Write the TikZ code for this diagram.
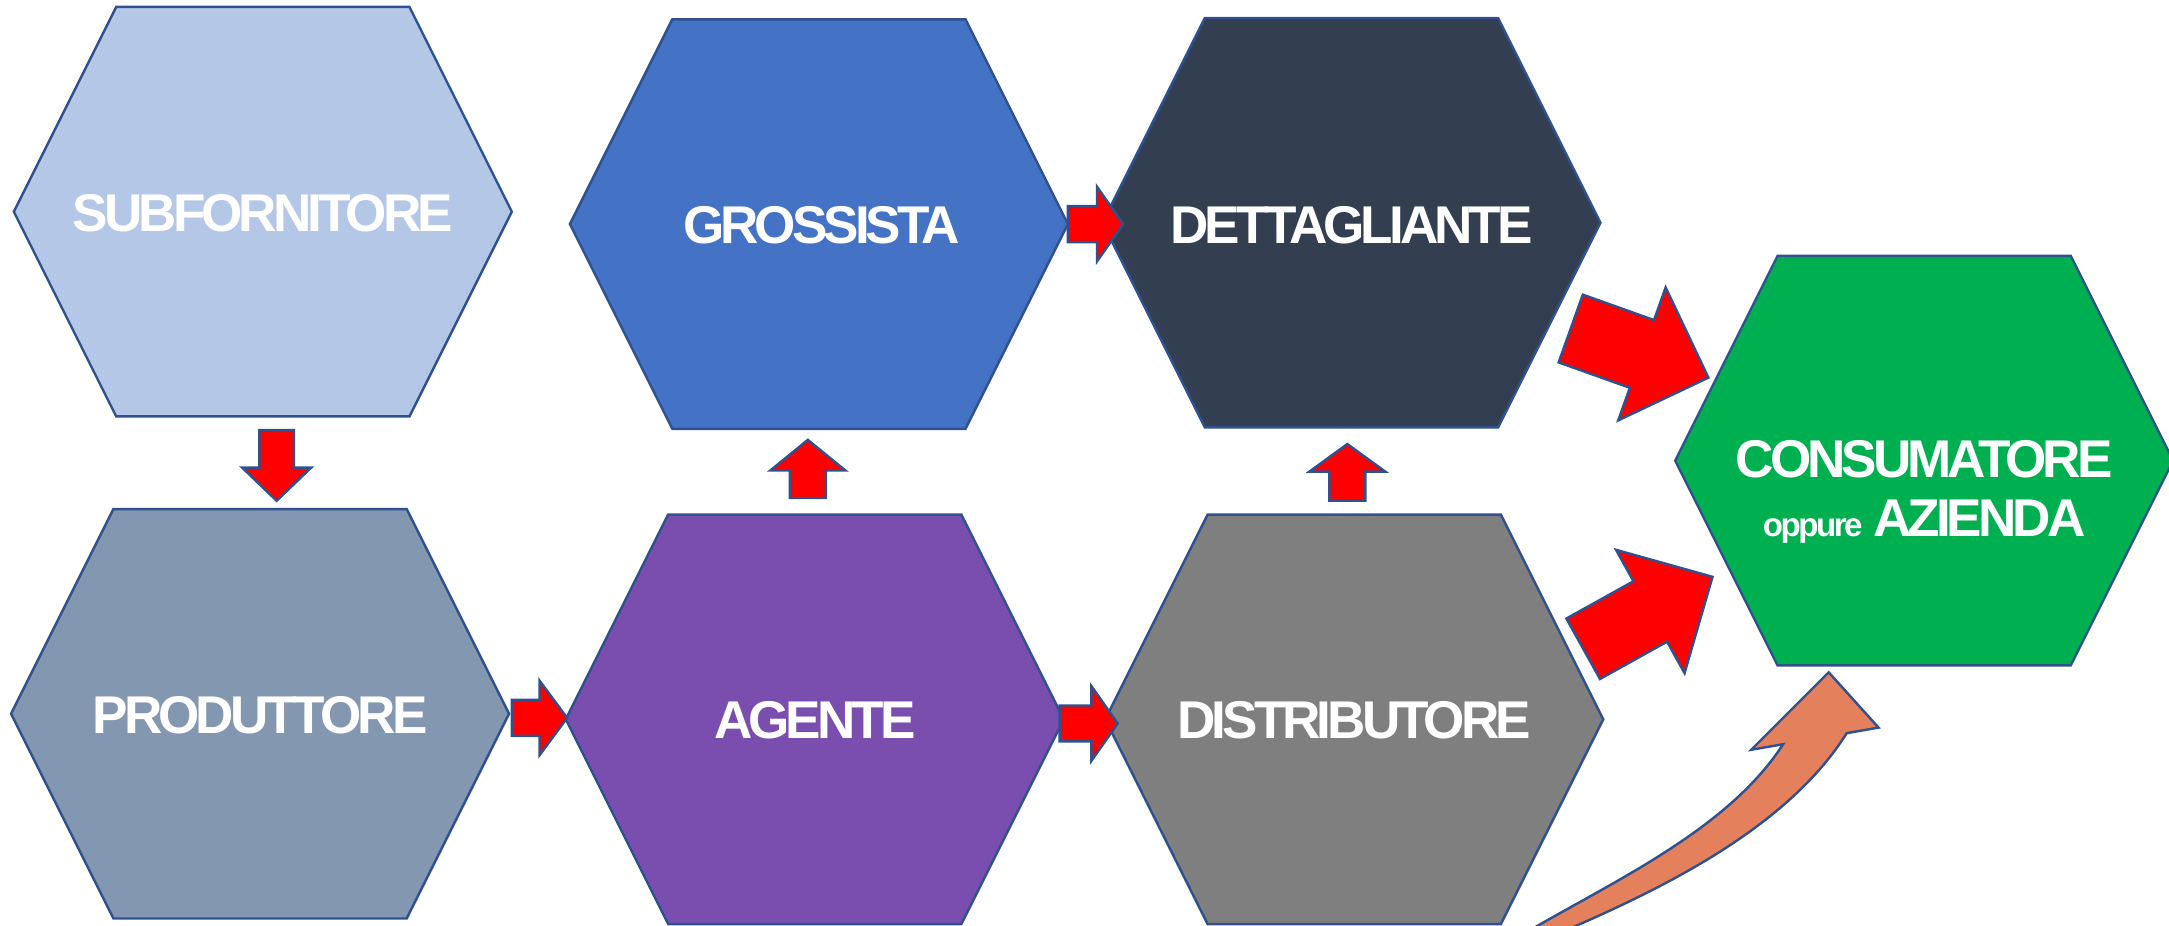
\documentclass[tikz,border=0pt]{standalone}
\usepackage{fontspec}
\setmainfont{Liberation Sans}
\newfontfamily\lblfont{Liberation Sans}[LetterSpace=-7.5]
\usetikzlibrary{calc}
\definecolor{cSub}{HTML}{B4C7E7}
\definecolor{cProd}{HTML}{8497B0}
\definecolor{cGross}{HTML}{4472C4}
\definecolor{cAg}{HTML}{7A4EAF}
\definecolor{cDett}{HTML}{333F50}
\definecolor{cDist}{HTML}{7F7F7F}
\definecolor{cCons}{HTML}{00B050}
\definecolor{cLine}{HTML}{2F528F}
\definecolor{cOr}{HTML}{E5805D}
\newcommand\hexat[2]{%
  \draw[hexsty, fill=#2] ([shift={(-180,0)}]#1) -- ([shift={(-106,-148)}]#1) -- ([shift={(106,-148)}]#1) -- ([shift={(180,0)}]#1) -- ([shift={(106,148)}]#1) -- ([shift={(-106,148)}]#1) -- cycle;}
\newcommand\barrow[5]{%
  \coordinate (tmpH) at ($(#2)!#5!(#1)$);
  \draw[redarrow] ($(#1)!#3!90:(#2)$) -- ($(tmpH)!#3!90:(#2)$) -- ($(tmpH)!#4!90:(#2)$) -- (#2) -- ($(tmpH)!#4!-90:(#2)$) -- ($(tmpH)!#3!-90:(#2)$) -- ($(#1)!#3!-90:(#2)$) -- cycle;}
\begin{document}
\begin{tikzpicture}[x=0.02cm, y=-0.02cm,
  hexsty/.style={draw=cLine, line width=1pt, line join=miter},
  redarrow/.style={draw=cLine, fill=red, line width=1pt, line join=miter},
  lbl/.style={text=white, font=\lblfont\fontsize{21.85}{24.5}\selectfont\bfseries, inner sep=0pt}]
\useasboundingbox (0,0) rectangle (1568,669);
\clip (0,0) rectangle (1568,669);
% hexagon centres
\coordinate (hSub) at (190,153);
\coordinate (hProd) at (188,516);
\coordinate (hGross) at (592,162);
\coordinate (hAg) at (589,520);
\coordinate (hDett) at (977,161);
\coordinate (hDist) at (979,520);
\coordinate (hCons) at (1391,333);
\hexat{hSub}{cSub}
\hexat{hProd}{cProd}
\hexat{hGross}{cGross}
\hexat{hAg}{cAg}
\hexat{hDett}{cDett}
\hexat{hDist}{cDist}
\hexat{hCons}{cCons}
% labels
\node[lbl] (sub) at (190,154) {SUBFORNITORE};
\node[lbl] (prod) at (188,517) {PRODUTTORE};
\node[lbl] (gross) at (594,163) {GROSSISTA};
\node[lbl] (ag) at (589,521) {AGENTE};
\node[lbl] (dett) at (977,163) {DETTAGLIANTE};
\node[lbl] (dist) at (979,521) {DISTRIBUTORE};
\node[lbl, align=center] (cons) at (1391,355.5) {CONSUMATORE\\{\fontsize{13.6}{15}\selectfont oppure} AZIENDA};
% block arrows
\coordinate (a1t) at (200,311); \coordinate (a1h) at (200,362);
\barrow{a1t}{a1h}{0.25cm}{0.5cm}{0.48cm}
\coordinate (a2t) at (370,519); \coordinate (a2h) at (410,519);
\barrow{a2t}{a2h}{0.26cm}{0.54cm}{0.4cm}
\coordinate (a3t) at (584,360); \coordinate (a3h) at (584,318);
\barrow{a3t}{a3h}{0.26cm}{0.54cm}{0.44cm}
\coordinate (a4t) at (772,162); \coordinate (a4h) at (812,162);
\barrow{a4t}{a4h}{0.26cm}{0.54cm}{0.38cm}
\coordinate (a5t) at (766,523); \coordinate (a5h) at (808,523);
\barrow{a5t}{a5h}{0.26cm}{0.54cm}{0.38cm}
\coordinate (a6t) at (974,362); \coordinate (a6h) at (974,321);
\barrow{a6t}{a6h}{0.26cm}{0.55cm}{0.4cm}
\coordinate (a7t) at (1135.5,237.5); \coordinate (a7h) at (1235,273);
\barrow{a7t}{a7h}{0.52cm}{1.02cm}{1.02cm}
\coordinate (a8t) at (1144.5,469); \coordinate (a8h) at (1238,417);
\barrow{a8t}{a8h}{0.5cm}{1.02cm}{1.03cm}
% curved arrow
\coordinate (cTip) at (1322,486);
\draw[draw=cLine, fill=cOr, line width=1pt, line join=miter]
  (cTip) -- (1358,526) -- (1335,530)
  .. controls (1295,594) and (1213,637) .. (1140,669) -- (1113,681) -- (1086,684) -- (1112,669)
  .. controls (1173,634) and (1251,597) .. (1289,538) -- (1266,542) -- cycle;
\end{tikzpicture}
\end{document}
